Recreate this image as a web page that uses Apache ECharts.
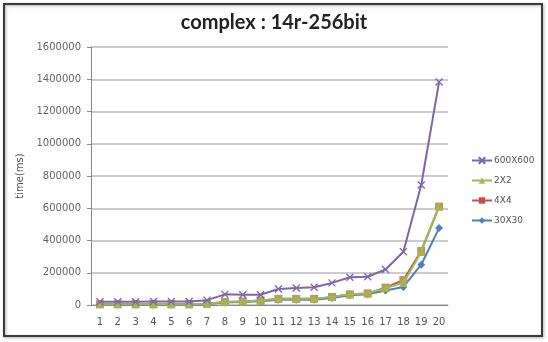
<!DOCTYPE html>
<html>
<head>
<meta charset="utf-8">
<script src="https://cdn.jsdelivr.net/npm/echarts@6/dist/echarts.min.js"></script>
<style>
html,body{margin:0;padding:0;background:#fff;}
#chart{width:548px;height:342px;}
</style>
</head>
<body>
<div id="chart"></div>
<script>
var categories = ['1','2','3','4','5','6','7','8','9','10','11','12','13','14','15','16','17','18','19','20'];
var seriesNames = ['600X600','2X2','4X4','30X30'];
var s600 = [20000,20000,20000,22000,22000,22000,30000,66000,64000,64000,99000,105000,110000,137000,172000,175000,220000,330000,744000,1383000];
var s2 = [5000,5000,5000,5000,5000,5000,8000,18000,22000,28000,38000,38000,38000,50000,66000,72000,105000,137000,329000,612000];
var s4 = [5000,5000,5000,5000,5000,5000,8000,18000,22000,28000,38000,38000,38000,50000,66000,72000,108000,155000,335000,610000];
var s30 = [3000,3000,3000,3000,3000,3000,6000,15000,18000,24000,32000,33000,33000,44000,60000,66000,90000,112000,250000,477000];
var yTicks = [0,200000,400000,600000,800000,1000000,1200000,1400000,1600000];

var chart = echarts.init(document.getElementById('chart'), null, {renderer:'canvas'});
var cross = 'path://M0,0L10,10M10,0L0,10';
var option = {
  backgroundColor:'#fff',
  animation:false,
  title:{
    text:'complex : 14r-256bit',
    left:'center', top:8,
    textStyle:{fontFamily:'Lato', fontWeight:'bold', fontSize:20, color:'#222'}
  },
  graphic:[{
    type:'rect', shape:{x:4,y:4,width:538,height:332},
    style:{fill:'none', stroke:'#3a3a3a', lineWidth:2, shadowBlur:3, shadowColor:'rgba(0,0,0,0.35)', shadowOffsetX:1, shadowOffsetY:1},
    silent:true, z:-1
  }],
  legend:{
    orient:'vertical', left:466, top:151,
    itemGap:11, itemWidth:20, itemHeight:8,
    data:[
      {name:seriesNames[0]},
      {name:seriesNames[1], itemStyle:{color:'#9BBB59'}},
      {name:seriesNames[2], itemStyle:{color:'#C0504D'}},
      {name:seriesNames[3]}
    ],
    textStyle:{fontFamily:'DejaVu Sans', fontSize:9, color:'#555', padding:[0,0,0,-3]}
  },
  grid:{left:91, right:100, top:47, bottom:37},
  xAxis:{
    type:'category', data:categories, boundaryGap:true,
    axisLine:{lineStyle:{color:'#888', width:1}},
    axisTick:{show:false},
    axisLabel:{fontFamily:'DejaVu Sans', fontSize:10, color:'#555', margin:12, interval:0}
  },
  yAxis:{
    type:'value', min:yTicks[0], max:yTicks[yTicks.length-1], interval:yTicks[1]-yTicks[0],
    name:'time(ms)', nameLocation:'middle', nameGap:54, nameRotate:90,
    nameTextStyle:{fontFamily:'DejaVu Sans', fontSize:10, color:'#555'},
    axisLine:{show:true, lineStyle:{color:'#888', width:1}},
    axisTick:{show:true, length:4, lineStyle:{color:'#888'}},
    axisLabel:{fontFamily:'DejaVu Sans', fontSize:10, color:'#666', margin:10,
      formatter:function(v){return String(v);}},
    splitLine:{lineStyle:{color:'#bbb', width:1.5}}
  },
  series:[
    {name:'600X600', type:'line', data:s600, symbol:cross, symbolSize:7,
     lineStyle:{color:'#7D66AE', width:2}, itemStyle:{color:'#7D66AE', borderColor:'#7D66AE', borderWidth:1.3}, z:5},
    {name:'2X2', type:'line', data:s2, symbol:'triangle', symbolSize:8,
     lineStyle:{color:'#9BBB59', width:2}, itemStyle:{color:'#a8b255'}, z:4},
    {name:'4X4', type:'line', data:s4, symbol:'rect', symbolSize:8,
     lineStyle:{color:'#C0504D', width:2}, itemStyle:{color:'#b89a55'}, z:3},
    {name:'30X30', type:'line', data:s30, symbol:'diamond', symbolSize:8,
     lineStyle:{color:'#4F81BD', width:2}, itemStyle:{color:'#4F81BD'}, z:2}
  ]
};
chart.setOption(option);
</script>
</body>
</html>
